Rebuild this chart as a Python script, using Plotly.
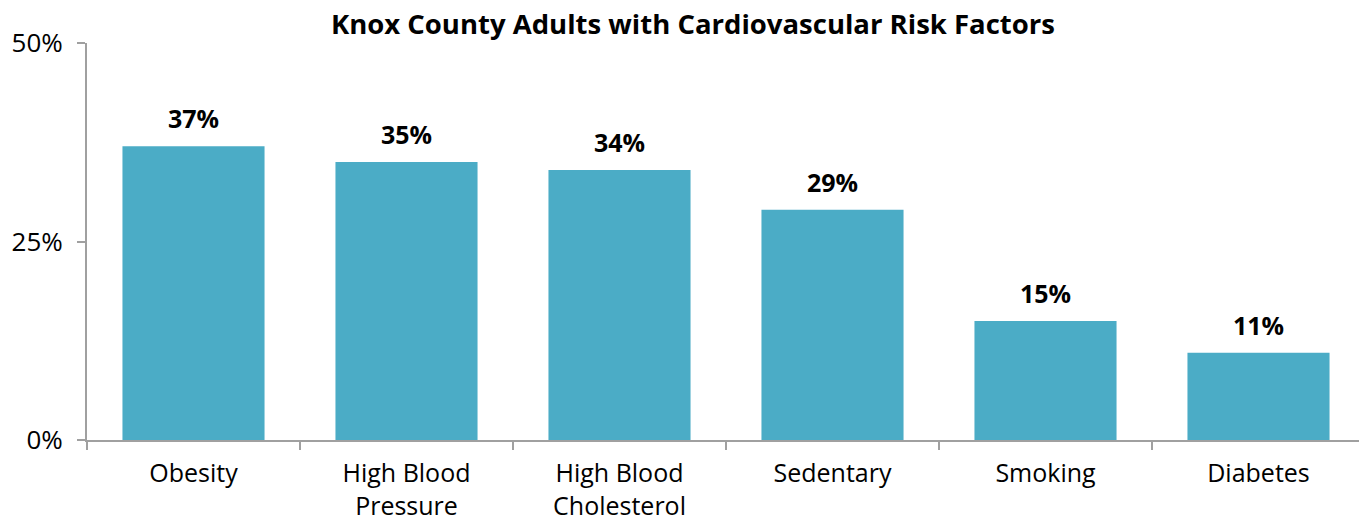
import plotly.graph_objects as go

CATEGORIES = ["Obesity", "High Blood<br>Pressure", "High Blood<br>Cholesterol", "Sedentary", "Smoking", "Diabetes"]
VALUES = [0.37, 0.35, 0.34, 0.29, 0.15, 0.11]
Y_TICKS = [0, 0.25, 0.5]
Y_TICK_TEXT = ["0%", "25%", "50%"]

BAR_COLOR = "#4BACC6"
AXIS_COLOR = "#A0A0A0"
FONT = "Open Sans, Noto Sans, sans-serif"

fig = go.Figure()
fig.add_trace(go.Bar(x=CATEGORIES, y=VALUES, marker={"color": BAR_COLOR, "line": {"width": 0}}, showlegend=False))

for cat, val in zip(CATEGORIES, VALUES):
    fig.add_annotation(x=cat, y=val, text=f"<b>{round(val * 100)}%</b>", showarrow=False,
                       yanchor="bottom", yshift=9, font={"size": 25, "color": "black", "family": FONT})

# page body keeps an 8px margin; figure sized so plot box lands where the reference has it
fig.update_layout(
    width=1359,
    height=510,
    margin={"l": 79, "r": 2, "t": 35, "b": 78, "autoexpand": False},
    paper_bgcolor="white",
    plot_bgcolor="white",
    bargap=0.333,
    font={"family": FONT, "size": 25, "color": "black"},
    title={"text": "<b>Knox County Adults with Cardiovascular Risk Factors</b>", "x": 0.504, "xanchor": "center",
           "y": 0.967, "yanchor": "middle", "font": {"size": 27.5, "color": "black"}},
    xaxis={"showline": True, "linecolor": AXIS_COLOR, "linewidth": 2, "ticks": "outside", "tickson": "boundaries",
           "ticklen": 8, "tickcolor": AXIS_COLOR, "tickwidth": 2, "showgrid": False, "tickfont": {"size": 25},
           "ticklabelstandoff": 10, "automargin": False},
    yaxis={"range": [0, 0.5], "tickvals": Y_TICKS, "ticktext": Y_TICK_TEXT, "showline": True, "linecolor": AXIS_COLOR,
           "linewidth": 2, "ticks": "outside", "ticklen": 8, "tickcolor": AXIS_COLOR, "tickwidth": 2,
           "showgrid": False, "zeroline": False, "tickfont": {"size": 26}, "ticklabelstandoff": 9,
           "automargin": False},
)

fig.write_html("out.html")
